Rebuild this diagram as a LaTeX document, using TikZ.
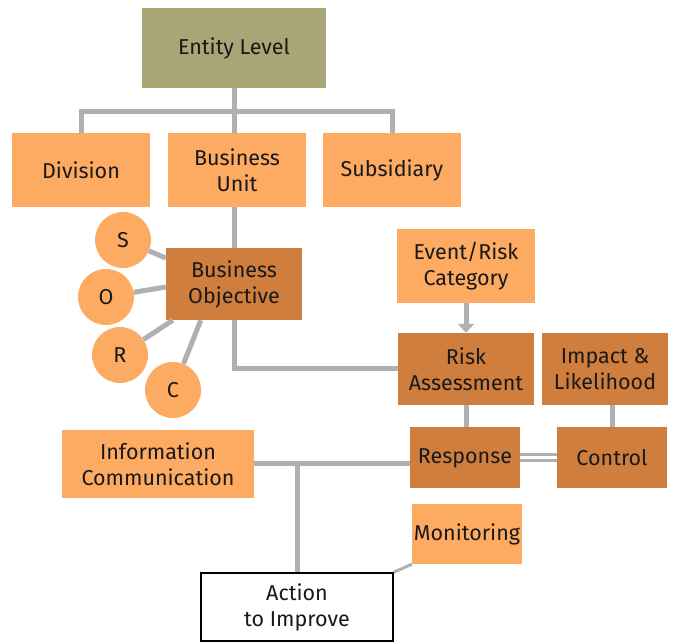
\documentclass[tikz,border=0pt]{standalone}
\usepackage{fontspec}
\setmainfont{Fira Sans}
\usepackage{xcolor}
\usepackage{tikz}
\usetikzlibrary{arrows.meta,positioning}

\definecolor{olivebox}{RGB}{170,165,118}
\definecolor{lightorange}{RGB}{253,170,98}
\definecolor{darkorange}{RGB}{207,126,62}
\definecolor{linkgray}{RGB}{176,176,176}

\begin{document}
\begin{tikzpicture}
  [
    x=1pt,y=-1pt,
    every node/.style={font=\fontsize{21.5}{26}\selectfont,align=center,inner sep=0pt,text=black!90},
    level/.style={rectangle,fill=olivebox,minimum width=184pt,minimum height=80pt},
    unit/.style={rectangle,fill=lightorange,minimum width=138pt,minimum height=74pt},
    process/.style={rectangle,fill=darkorange,minimum width=136pt,minimum height=72pt},
    letter/.style={circle,fill=lightorange,minimum size=56pt},
    final/.style={rectangle,draw=black,line width=1.5pt,fill=white,minimum width=192pt,minimum height=68pt},
    link/.style={draw=linkgray,line width=5pt}
  ]
  \useasboundingbox (0,0) rectangle (673,644);
  \node[level] (entity) at (234,48) {Entity Level};
  \node[unit] (division) at (81,170) {Division};
  \node[unit] (business unit) at (237,170) {Business\\Unit};
  \node[unit] (subsidiary) at (392,170) {Subsidiary};
  \node[process] (objective) at (234,284) {Business\\Objective};
  \node[letter] (s) at (123,240) {S};
  \node[letter] (o) at (106,297) {O};
  \node[letter] (r) at (120,355) {R};
  \node[letter] (c) at (173,390) {C};
  \node[unit] (category) at (466,266) {Event/Risk\\Category};
  \node[process] (assessment) at (466,369) {Risk\\Assessment};
  \node[process, minimum width=126pt] (impact) at (605,369) {Impact \&\\Likelihood};
  \node[process, minimum width=110pt, minimum height=61pt] (response) at (465,458) {Response};
  \node[process, minimum width=110pt, minimum height=61pt] (control) at (612,458) {Control};
  \node[unit, minimum width=192pt, minimum height=68pt] (information) at (158,464) {Information\\Communication};
  \node[unit, minimum width=110pt, minimum height=60pt] (monitoring) at (467,534) {Monitoring};
  \node[final] (action) at (297,607) {Action\\to Improve};
  \coordinate (split) at (234,112);
  \draw[link] (division.north) |- (split) -| (subsidiary.north);
  \draw[link] (entity.south) -- (entity.south |- business unit.north);
  \draw[link] (objective.north) -- (objective.north |- business unit.south);
  \draw[link] (s) -- ([yshift=26pt]objective.west);
  \draw[link] (o) -- ([yshift=-3pt]objective.west);
  \draw[link] (r) -- ([xshift=7pt]objective.south west);
  \draw[link] (c) -- ([xshift=35pt]objective.south west);
  \draw[link] (objective.south) |- (assessment.west);
  \draw[link, -{Triangle[width=16pt,length=9pt]}] (category.south) -- (assessment.north);
  \draw[link] (assessment.south) -- (assessment.south |- response.north);
  \draw[link] (control.north |- impact.south) -- (control.north);
  \draw[draw=linkgray, line width=3pt, double=white, double distance=3pt] (response.east) -- (control.west);
  \draw[link] (information.east) -- (information.east -| response.west);
  \draw[link] (action.north |- information.east) -- (action.north);
  \draw[link, line width=3pt] (monitoring.south west) -- (action.north east);
\end{tikzpicture}
\end{document}
